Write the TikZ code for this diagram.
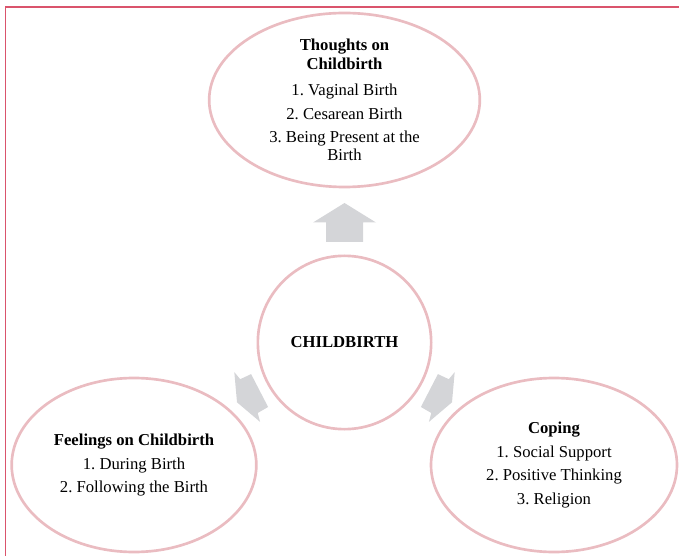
\documentclass[tikz,border=0pt]{standalone}
\usepackage{fontspec}
\setmainfont{Liberation Serif}
\usetikzlibrary{shapes.geometric}
\definecolor{ringcol}{RGB}{234,188,193}
\definecolor{framecol}{RGB}{218,84,108}
\definecolor{arrowcol}{RGB}{212,213,216}
\frenchspacing
\begin{document}
\begin{tikzpicture}[x=0.75pt,y=-0.75pt,
  bubble/.style={ellipse, draw=ringcol, line width=2pt, inner sep=0pt, align=center,
    font=\fontsize{12.5}{13.8}\selectfont},
  blockarrow/.style={fill=arrowcol, draw=none}]
\useasboundingbox (0,0) rectangle (679,556);
\draw[framecol, line width=1.1pt] (679,7) -- (5.5,7) -- (5.5,556);

\node[bubble, minimum width=203pt, minimum height=130.5pt] (thoughts) at (344.5,100)
  {\textbf{Thoughts on}\\\textbf{Childbirth}\\[6.2pt]1. Vaginal Birth\\[3.6pt]2. Cesarean Birth\\[3.6pt]3. Being Present at the\\Birth};
\node[bubble, minimum width=130pt, minimum height=130pt] (center) at (344.5,342.5)
  {\textbf{CHILDBIRTH}};
\node[bubble, minimum width=183.5pt, minimum height=130.5pt] (feelings) at (134,465)
  {\textbf{Feelings on Childbirth}\\[4pt]1. During Birth\\[3.8pt]2. Following the Birth};
\node[bubble, minimum width=184.5pt, minimum height=130.5pt] (coping) at (554,465)
  {\textbf{Coping}\\[3.8pt]1. Social Support\\[3.8pt]2. Positive Thinking\\[3.8pt]3. Religion};

% block arrows from the centre towards the outer bubbles
\fill[blockarrow] (344.5,203) -- (376,222.5) -- (363,222.5) -- (363,242) -- (326,242) -- (326,222.5) -- (313,222.5) -- cycle;
\fill[blockarrow] (237.0,402.3) -- (260.1,421.9) -- (257.7,413.0) -- (268.1,407.0) -- (251.1,374.1) -- (240.2,379.2) -- (234.3,372.1) -- cycle;
\fill[blockarrow] (452.0,402.3) -- (428.9,421.9) -- (431.3,413.0) -- (420.9,407.0) -- (437.9,374.1) -- (448.8,379.2) -- (454.7,372.1) -- cycle;
\end{tikzpicture}
\end{document}
